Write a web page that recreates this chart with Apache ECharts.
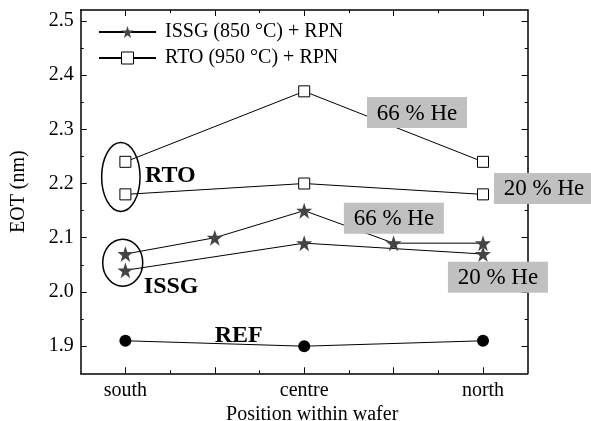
<!DOCTYPE html>
<html><head><meta charset="utf-8">
<script src="https://cdn.jsdelivr.net/npm/echarts@6/dist/echarts.min.js"></script>
<style>html,body{margin:0;padding:0;background:#fff}#c{width:591px;height:421px}</style>
</head><body><div id="c"></div>
<script>
// ---- data ----
const xPositions = [0, 1, 2, 3, 4];
const xTickLabels = ['south', '', 'centre', '', 'north'];
const xLabelPositions = [0, 2, 4];
const xMinorTicks = [0.5, 1.5, 2.5, 3.5];
const yTicks = [1.9, 2.0, 2.1, 2.2, 2.3, 2.4, 2.5];
const yTickLabels = ['1.9', '2.0', '2.1', '2.2', '2.3', '2.4', '2.5'];
const yMinorTicks = [1.95, 2.05, 2.15, 2.25, 2.35, 2.45];

const refX = [0, 2, 4];
const refY = [1.91, 1.90, 1.91];
const issg20X = [0, 2, 4];
const issg20Y = [2.04, 2.09, 2.07];
const issg66X = [0, 1, 2, 3, 4];
const issg66Y = [2.07, 2.10, 2.15, 2.09, 2.09];
const rto20X = [0, 2, 4];
const rto20Y = [2.18, 2.20, 2.18];
const rto66X = [0, 2, 4];
const rto66Y = [2.24, 2.37, 2.24];

const legendNames = ['ISSG (850 °C) + RPN', 'RTO (950 °C) + RPN'];

// annotations anchored in data coordinates
const boxNotes = [
  { text: '66 % He', x: 3.262, y: 2.331 },
  { text: '20 % He', x: 4.682, y: 2.191 },
  { text: '66 % He', x: 3.003, y: 2.136 },
  { text: '20 % He', x: 4.167, y: 2.027 }
];
const boldNotes = [
  { text: 'RTO', x: 0.502, y: 2.214 },
  { text: 'ISSG', x: 0.512, y: 2.010 },
  { text: 'REF', x: 1.267, y: 1.920 }
];
const ellipses = [
  { x: -0.051, y: 2.212, rx: 19.2, ry: 34.5 },
  { x: -0.030, y: 2.054, rx: 20, ry: 23.5 }
];

// ---- chart ----
const FONT = '"Liberation Serif", "Times New Roman", serif';
const STAR = 'path://M50,0 L61.8,35.1 L98.9,35.1 L69.1,57.4 L79.4,91.9 L50,70.9 L20.6,91.9 L30.9,57.4 L1.1,35.1 L38.2,35.1 Z';
const zip = (xs, ys) => xs.map((x, i) => [x, ys[i]]);
const XMIN = -0.5, XMAX = 4.5, YMIN = 1.85, YMAX = 2.52;
const axisLineStyle = { show: true, onZero: false, lineStyle: { color: '#000', width: 1.5 } };
const noLine = { show: false, onZero: false };

function xAx(pos, ticks, len, showLine, labels) {
  return {
    type: 'value', position: pos, min: XMIN, max: XMAX,
    axisLine: showLine ? axisLineStyle : noLine,
    splitLine: { show: false },
    axisTick: { show: true, inside: true, length: len, customValues: ticks, lineStyle: { color: '#000', width: 1 } },
    axisLabel: labels ? {
      show: true, customValues: xLabelPositions, margin: 7,
      formatter: v => xTickLabels[xPositions.indexOf(Math.round(v))],
      color: '#000', fontSize: 20, fontFamily: FONT
    } : { show: false },
    name: labels ? 'Position within wafer' : '',
    nameLocation: 'middle', nameGap: 27,
    nameTextStyle: { color: '#000', fontSize: 20, fontFamily: FONT, padding: [0, 0, 0, 16] }
  };
}
function yAx(pos, ticks, len, showLine, labels) {
  return {
    type: 'value', position: pos, min: YMIN, max: YMAX,
    axisLine: showLine ? axisLineStyle : noLine,
    splitLine: { show: false },
    axisTick: { show: true, inside: true, length: len, customValues: ticks, lineStyle: { color: '#000', width: 1 } },
    axisLabel: labels ? {
      show: true, customValues: yTicks, margin: 7,
      formatter: v => yTickLabels[yTicks.findIndex(t => Math.abs(t - v) < 1e-6)],
      color: '#000', fontSize: 20, fontFamily: FONT
    } : { show: false },
    name: labels ? 'EOT (nm)' : '',
    nameLocation: 'middle', nameGap: 52,
    nameTextStyle: { color: '#000', fontSize: 20, fontFamily: FONT }
  };
}

function lineSeries(name, data, symbol, size, itemStyle) {
  return {
    type: 'line', name: name, data: data, xAxisIndex: 0, yAxisIndex: 0,
    symbol: symbol, symbolSize: size, showAllSymbol: true,
    lineStyle: { color: '#000', width: 1 },
    itemStyle: itemStyle, emphasis: { disabled: true }, z: 3
  };
}

const chart = echarts.init(document.getElementById('c'), null, { renderer: 'canvas' });
const starStyle = { color: '#444', borderWidth: 0 };
const squareStyle = { color: '#fff', borderColor: '#000', borderWidth: 1 };
const circleStyle = { color: '#000', borderWidth: 0 };

chart.setOption({
  animation: false,
  backgroundColor: '#fff',
  grid: { left: 80.7, top: 10, right: 63.3, bottom: 47.7, containLabel: false, outerBoundsMode: 'none' },
  xAxis: [
    xAx('bottom', xPositions, 6, true, true),
    xAx('bottom', xMinorTicks, 3, false, false),
    xAx('top', xPositions, 6, true, false),
    xAx('top', xMinorTicks, 3, false, false)
  ],
  yAxis: [
    yAx('left', yTicks, 6, true, true),
    yAx('left', yMinorTicks, 3, false, false),
    yAx('right', yTicks, 6, true, false),
    yAx('right', yMinorTicks, 3, false, false)
  ],
  legend: {
    data: [
      { name: legendNames[0], itemStyle: { borderWidth: 0 } },
      { name: legendNames[1], itemStyle: { borderWidth: 1, borderColor: '#000' } }
    ],
    orient: 'vertical', left: 93, top: 17,
    itemWidth: 57, itemHeight: 15, itemGap: 6,
    selectedMode: false,
    textStyle: { color: '#000', fontSize: 20, fontFamily: FONT, lineHeight: 20, padding: [0, 0, 0, 4] }
  },
  series: [
    lineSeries('REF', zip(refX, refY), 'circle', 12, circleStyle),
    lineSeries(legendNames[0], zip(issg20X, issg20Y), STAR, 16, starStyle),
    lineSeries(legendNames[0], zip(issg66X, issg66Y), STAR, 16, starStyle),
    lineSeries(legendNames[1], zip(rto20X, rto20Y), 'rect', 11, squareStyle),
    lineSeries(legendNames[1], zip(rto66X, rto66Y), 'rect', 11, squareStyle)
  ]
});

const toPx = (x, y) => chart.convertToPixel({ xAxisIndex: 0, yAxisIndex: 0 }, [x, y]);
const graphics = [];
ellipses.forEach(e => {
  const p = toPx(e.x, e.y);
  graphics.push({ type: 'ellipse', z: 50, shape: { cx: p[0], cy: p[1], rx: e.rx, ry: e.ry },
    style: { fill: 'none', stroke: '#000', lineWidth: 1.5 } });
});
boxNotes.forEach(b => {
  const p = toPx(b.x, b.y);
  graphics.push({ type: 'rect', z: 60, shape: { x: p[0] - 50, y: p[1] - 15.5, width: 100, height: 31 },
    style: { fill: '#c0c0c0', stroke: 'none' } });
  graphics.push({ type: 'text', z: 61, x: p[0], y: p[1] + 1,
    style: { text: b.text, fill: '#000', font: '23px ' + FONT, textAlign: 'center', textVerticalAlign: 'middle' } });
});
boldNotes.forEach(b => {
  const p = toPx(b.x, b.y);
  graphics.push({ type: 'text', z: 61, x: p[0], y: p[1],
    style: { text: b.text, fill: '#000', font: 'bold 24px ' + FONT, textAlign: 'center', textVerticalAlign: 'middle' } });
});
chart.setOption({ graphic: graphics });
</script>
</body></html>
